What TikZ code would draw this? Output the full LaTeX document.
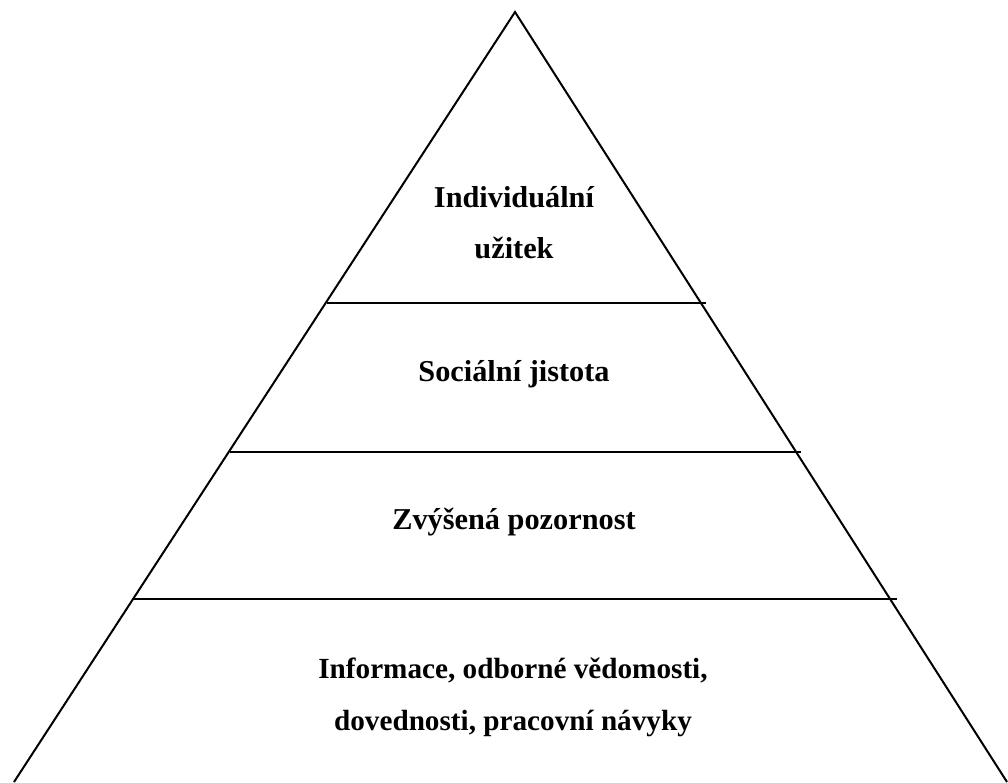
\documentclass[tikz,border=0pt]{standalone}
\usepackage{fontspec}
\setmainfont{Liberation Serif}

\begin{document}
\begin{tikzpicture}[x=1pt,y=-1pt,
    edge/.style={line width=2pt},
    label/.style={font=\bfseries\fontsize{30.3}{51}\selectfont, align=center, anchor=base, inner sep=0pt}]
    \useasboundingbox (0,0) rectangle (1008,782);
    \clip (0,0) rectangle (1008,782);
    % sommet et base
    \coordinate (top) at (515,12);
    \coordinate (bl) at (14,782);
    \coordinate (br) at (1007,782);
    % niveaux
    \coordinate (l1) at (327,303);
    \coordinate (r1) at (706,303);
    \coordinate (l2) at (230,452);
    \coordinate (r2) at (801,452);
    \coordinate (l3) at (134,599);
    \coordinate (r3) at (897,599);
    \draw[edge] (bl) -- (top) -- (br);
    \draw[edge] (l1) -- (r1);
    \draw[edge] (l2) -- (r2);
    \draw[edge] (l3) -- (r3);
    % textes (ancre = ligne de base de la derniere ligne)
    \node[label] (n1) at (514,258) {Individuální\\užitek};
    \node[label] (n2) at (514,381) {Sociální jistota};
    \node[label] (n3) at (514,529) {Zvýšená pozornost};
    \node[label, font=\bfseries\fontsize{29.2}{52}\selectfont] (n4) at (513,730) {Informace, odborné vědomosti,\\dovednosti, pracovní návyky};
\end{tikzpicture}
\end{document}
